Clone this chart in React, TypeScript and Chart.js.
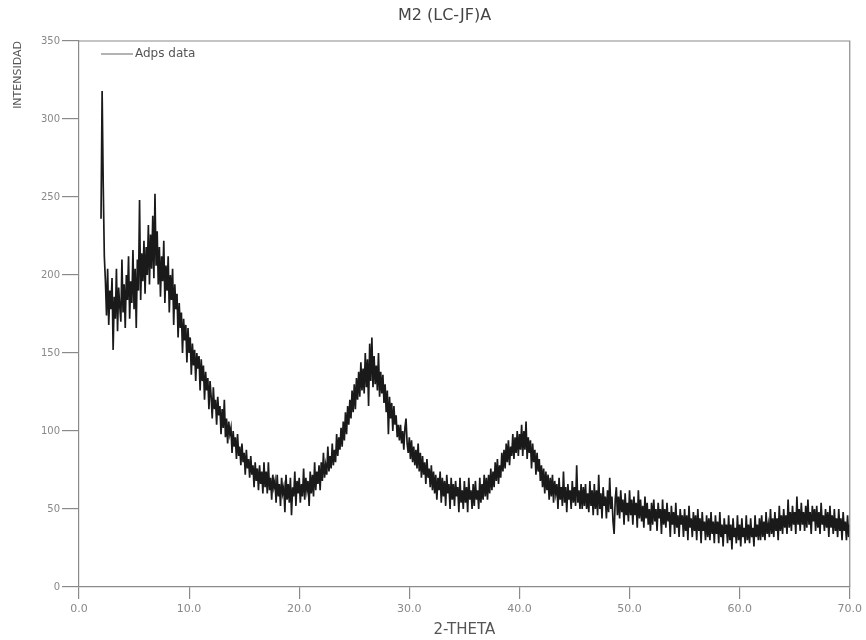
import React, { useEffect, useRef } from "react";
import { Chart, registerables } from "chart.js";

Chart.register(...registerables);

const chartTitle = "M2 (LC-JF)A";
const seriesLabel = "Adps data";
const xAxisTitle = "2-THETA";
const yAxisTitle = "INTENSIDAD";

// 2-theta sampling (degrees) of the scan
const thetaStart = 2.0;
const thetaStep = 0.1;

// Intensity, in 5-degree segments (0.1 deg apart)
const int02to07 = [236, 318, 258, 212, 196, 174, 204, 168, 190, 178, 198, 152, 186, 172, 204, 164, 192, 180, 170, 210, 176, 194, 166, 200, 184, 212, 172, 196, 182, 216, 178, 204, 166, 210, 190, 248, 184, 214, 196, 222, 188, 218, 200, 232, 194, 226, 204, 238, 198, 252];
const int07to12 = [206, 228, 194, 218, 186, 212, 196, 222, 182, 206, 190, 212, 176, 200, 184, 204, 168, 194, 178, 188, 160, 182, 166, 176, 150, 172, 158, 168, 144, 166, 150, 160, 136, 156, 142, 152, 132, 150, 140, 148, 126, 146, 132, 142, 120, 138, 126, 134, 114, 132];
const int12to17 = [122, 108, 128, 114, 120, 104, 122, 110, 116, 98, 114, 102, 120, 96, 108, 92, 106, 98, 102, 86, 100, 90, 96, 82, 98, 84, 90, 78, 92, 80, 86, 72, 88, 76, 82, 70, 84, 72, 78, 64, 80, 68, 76, 62, 78, 66, 74, 60, 80, 64];
const int17to22 = [74, 60, 80, 62, 70, 56, 72, 64, 68, 54, 72, 58, 66, 52, 70, 60, 64, 48, 72, 56, 66, 54, 70, 46, 64, 58, 74, 52, 68, 60, 70, 54, 66, 58, 76, 56, 70, 62, 68, 52, 74, 60, 72, 58, 80, 62, 74, 66, 78, 62];
const int22to27 = [80, 68, 86, 70, 78, 72, 90, 74, 84, 76, 92, 78, 88, 80, 98, 84, 96, 88, 102, 90, 106, 94, 112, 98, 116, 104, 120, 108, 126, 112, 130, 114, 134, 120, 138, 122, 144, 126, 140, 124, 150, 128, 146, 116, 156, 132, 160, 128, 148, 130];
const int27to32 = [142, 126, 150, 122, 138, 124, 136, 118, 130, 112, 126, 98, 122, 108, 118, 100, 116, 104, 110, 96, 104, 94, 104, 92, 100, 88, 102, 108, 92, 86, 96, 82, 94, 80, 90, 78, 88, 76, 92, 74, 86, 70, 84, 72, 80, 66, 82, 70, 76, 64];
const int32to37 = [78, 62, 74, 60, 72, 56, 70, 62, 74, 54, 70, 58, 68, 52, 72, 60, 66, 50, 70, 56, 66, 52, 68, 58, 64, 48, 70, 54, 62, 50, 68, 54, 64, 48, 70, 56, 62, 50, 66, 52, 68, 56, 62, 50, 70, 54, 66, 56, 72, 58];
const int37to42 = [70, 56, 72, 60, 76, 62, 74, 64, 80, 68, 82, 66, 78, 70, 86, 74, 88, 76, 92, 80, 94, 78, 90, 84, 98, 82, 96, 86, 100, 84, 98, 88, 104, 84, 100, 88, 106, 82, 96, 86, 94, 76, 92, 80, 88, 72, 86, 74, 82, 68];
const int42to47 = [78, 64, 76, 60, 74, 62, 72, 56, 70, 58, 72, 54, 68, 60, 66, 50, 70, 56, 64, 52, 74, 54, 64, 48, 66, 56, 62, 50, 68, 54, 64, 52, 78, 54, 62, 50, 66, 50, 64, 52, 66, 50, 60, 48, 68, 52, 62, 46, 66, 50];
const int47to52 = [62, 46, 72, 50, 60, 44, 64, 52, 58, 44, 62, 48, 70, 50, 58, 42, 34, 56, 64, 46, 58, 44, 62, 48, 56, 40, 60, 46, 54, 42, 62, 46, 56, 40, 58, 46, 54, 38, 62, 44, 56, 42, 52, 38, 58, 44, 54, 40, 50, 36];
const int52to57 = [54, 40, 56, 42, 50, 36, 54, 44, 50, 34, 56, 40, 50, 38, 54, 42, 48, 32, 52, 40, 48, 34, 54, 38, 46, 32, 50, 40, 46, 32, 50, 36, 46, 30, 52, 38, 44, 32, 48, 36, 46, 30, 50, 36, 44, 28, 48, 36, 42, 30];
const int57to62 = [46, 32, 44, 30, 48, 34, 42, 28, 46, 34, 42, 28, 48, 32, 40, 26, 44, 34, 40, 28, 46, 30, 40, 24, 44, 32, 38, 28, 46, 30, 40, 26, 44, 32, 38, 28, 46, 30, 40, 28, 44, 32, 38, 26, 46, 32, 40, 30, 44, 30];
const int62to67 = [46, 32, 42, 30, 48, 34, 40, 32, 50, 34, 44, 32, 48, 36, 44, 30, 52, 36, 46, 34, 50, 38, 46, 34, 56, 38, 48, 36, 52, 40, 48, 34, 58, 40, 50, 36, 54, 40, 48, 36, 52, 38, 56, 40, 48, 34, 52, 42, 50, 36];
const int67to70 = [52, 38, 48, 34, 54, 40, 46, 36, 50, 38, 48, 32, 52, 38, 46, 34, 50, 36, 44, 32, 50, 36, 44, 30, 48, 36, 42, 30, 46, 32, 40];

const xTickValues = [0, 10, 20, 30, 40, 50, 60, 70];
const xTickLabels = ["0.0", "10.0", "20.0", "30.0", "40.0", "50.0", "60.0", "70.0"];
const yTickLabels = ["0", "50", "100", "150", "200", "250", "300", "350"];

const FONT = "'DejaVu Sans', 'Liberation Sans', sans-serif";

const frameAndLegend = {
  id: "frameAndLegend",
  afterDatasetsDraw(chart: any) {
    const { ctx, chartArea } = chart;
    const { left, top, right, bottom } = chartArea;
    ctx.save();
    ctx.strokeStyle = "#8a8a8a";
    ctx.lineWidth = 1.2;
    ctx.beginPath();
    ctx.moveTo(left, top);
    ctx.lineTo(right, top);
    ctx.lineTo(right, bottom);
    ctx.stroke();
    const ds = chart.data.datasets[0];
    const lx = left + 22;
    const ly = top + 13;
    ctx.strokeStyle = "#666";
    ctx.lineWidth = 1;
    ctx.beginPath();
    ctx.moveTo(lx, ly);
    ctx.lineTo(lx + 32, ly);
    ctx.stroke();
    ctx.fillStyle = "#555";
    ctx.font = `12px ${FONT}`;
    ctx.textBaseline = "middle";
    ctx.textAlign = "left";
    ctx.fillText(ds.label, lx + 34, ly);
    ctx.restore();
  },
};

export default function App() {
  const ref = useRef<HTMLCanvasElement | null>(null);

  useEffect(() => {
    if (!ref.current) return;
    const intensity = [
      ...int02to07,
      ...int07to12,
      ...int12to17,
      ...int17to22,
      ...int22to27,
      ...int27to32,
      ...int32to37,
      ...int37to42,
      ...int42to47,
      ...int47to52,
      ...int52to57,
      ...int57to62,
      ...int62to67,
      ...int67to70,
    ];
    const points = intensity.map((y, i) => ({
      x: Number((thetaStart + i * thetaStep).toFixed(1)),
      y,
    }));

    const chart = new Chart(ref.current, {
      type: "line",
      data: {
        datasets: [
          {
            label: seriesLabel,
            data: points,
            borderColor: "#1a1a1a",
            borderWidth: 1.7,
            pointRadius: 0,
            tension: 0,
            fill: false,
          },
        ],
      },
      options: {
        animation: false,
        responsive: false,
        maintainAspectRatio: false,
        layout: { padding: { left: 36, right: 13, top: 0, bottom: 0 } },
        plugins: {
          legend: { display: false },
          tooltip: { enabled: false },
          title: {
            display: true,
            text: chartTitle,
            color: "#444",
            font: { family: FONT, size: 16, weight: "normal" },
            padding: { top: 6, bottom: 15.8 },
          },
        },
        scales: {
          x: {
            type: "linear",
            min: 0,
            max: 70,
            afterBuildTicks: (scale: any) => {
              scale.ticks = xTickValues.map((v) => ({ value: v }));
            },
            afterFit: (scale: any) => {
              scale.height = 53;
            },
            ticks: {
              color: "#888",
              font: { family: FONT, size: 11 },
              padding: 4,
              maxRotation: 0,
              autoSkip: false,
              callback: (v: any) => {
                const i = xTickValues.indexOf(Number(v));
                return i >= 0 ? xTickLabels[i] : "";
              },
            },
            grid: {
              drawOnChartArea: false,
              drawTicks: true,
              tickLength: 12,
              color: "#8a8a8a",
              lineWidth: 1.2,
            },
            border: { color: "#8a8a8a", width: 1.2 },
            title: {
              display: true,
              text: xAxisTitle,
              color: "#555",
              font: { family: FONT, size: 15 },
              padding: { top: 0, bottom: 1 },
            },
          },
          y: {
            type: "linear",
            min: 0,
            max: 350,
            ticks: {
              stepSize: 50,
              color: "#888",
              font: { family: FONT, size: 10 },
              padding: 2,
              callback: (v: any) => yTickLabels[Math.round(Number(v) / 50)] ?? "",
            },
            afterFit: (scale: any) => {
              scale.width = 43;
            },
            grid: {
              drawOnChartArea: false,
              drawTicks: true,
              tickLength: 17,
              color: "#8a8a8a",
              lineWidth: 1.2,
            },
            border: { color: "#8a8a8a", width: 1.2 },
            title: {
              display: true,
              text: yAxisTitle,
              align: "end",
              color: "#555",
              font: { family: FONT, size: 11 },
              padding: { top: -24.6, bottom: 0 },
            },
          },
        },
      },
      plugins: [frameAndLegend],
    });
    return () => chart.destroy();
  }, []);

  return (
    <div style={{ position: "absolute", left: 0, top: 0, width: 866, height: 640, background: "#fff" }}>
      <canvas ref={ref} width={866} height={640} style={{ display: "block" }} />
    </div>
  );
}
